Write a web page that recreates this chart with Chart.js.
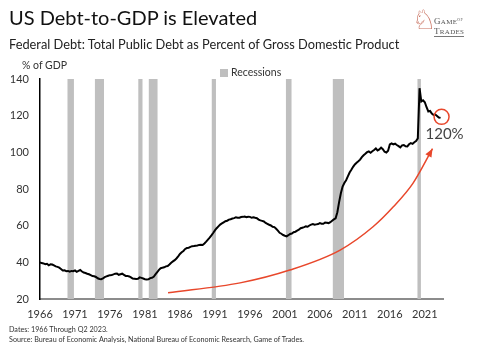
<html>

<head>
    <script type="text/javascript" src="https://cdn.jsdelivr.net/npm/chart.js@4.4.0/dist/chart.umd.min.js"></script>
    <style>
        body { margin: 0; background: #fff; }
        #wrap { position: relative; width: 478px; height: 350px; overflow: hidden; font-family: "Lato", sans-serif; color: #222; }
        #wrap canvas { position: absolute; left: 0; top: 0; }
        .txt { position: absolute; white-space: nowrap; }
        #title { left: 9px; top: 5px; font-size: 20px; color: #111; }
        #subtitle { left: 9px; top: 36px; font-size: 12.8px; color: #222; }
        #unit { left: 22px; top: 59px; font-size: 10.5px; color: #333; }
        #legend { left: 220px; top: 66px; font-size: 10.5px; color: #333; }
        #legend span { display: inline-block; width: 8px; height: 8px; background: #bfbfbf; margin-right: 3px; vertical-align: -1px; }
        #notes { left: 9px; top: 325px; font-size: 7.2px; line-height: 10px; color: #333; }
        #logo { left: 412px; top: 4px; }
        #knight { position: absolute; left: 0; top: 0; font-family: "DejaVu Sans"; font-size: 27px; color: #c8705f; }
        #logoText { position: absolute; left: 22px; top: 11px; font-family: "Liberation Serif", serif; font-size: 9px; line-height: 9px; color: #555; letter-spacing: 0.3px; }
        #logoText small { font-size: 4px; vertical-align: 3px; }
    </style>
</head>

<body>
    <div id="wrap">
        <canvas id="debtChart" width="478" height="350"></canvas>
        <div class="txt" id="title">US Debt-to-GDP is Elevated</div>
        <div class="txt" id="subtitle">Federal Debt: Total Public Debt as Percent of Gross Domestic Product</div>
        <div class="txt" id="unit">% of GDP</div>
        <div class="txt" id="legend"><span></span>Recessions</div>
        <div class="txt" id="notes">Dates: 1966 Through Q2 2023.<br>Source: Bureau of Economic Analysis, National Bureau of Economic Research, Game of Trades.</div>
        <div class="txt" id="logo">
            <div id="knight">&#9816;</div>
            <div id="logoText">G<span style="font-size:7px">AME</span><small>OF</small><br><span style="border-bottom:1px solid #777">T<span style="font-size:7px">RADES</span></span></div>
        </div>
    </div>
</body>

</html>

<script type="text/javascript">
    // quarterly, starting 1966 Q1
    const startYear = 1966;
    const debtToGdp = [
        40.0, 39.6, 39.4, 39.0, // 1966
        39.2, 38.4, 38.9, 38.8,
        38.3, 37.8, 37.5, 37.1,
        36.4, 35.6, 35.7, 35.2,
        35.3, 34.9, 35.3, 35.2, // 1970
        35.6, 34.8, 35.3, 35.8,
        35.0, 34.4, 34.2, 33.8,
        33.5, 33.0, 32.5, 32.4,
        32.0, 31.3, 30.9, 30.8,
        31.2, 31.9, 32.3, 32.7, // 1975
        33.0, 33.1, 33.4, 33.8,
        33.9, 33.2, 33.5, 33.8,
        33.2, 32.6, 32.6, 32.3,
        31.8, 31.1, 31.0, 30.9,
        31.0, 31.8, 31.5, 31.2, // 1980
        30.8, 30.6, 30.7, 31.4,
        31.6, 32.1, 33.4, 34.6,
        35.9, 36.8, 37.1, 37.3,
        37.8, 38.0, 38.8, 39.8,
        40.5, 41.2, 42.1, 43.3, // 1985
        44.6, 45.5, 46.2, 47.3,
        47.8, 48.0, 48.4, 48.8,
        48.9, 49.1, 49.2, 49.5,
        49.6, 49.5, 50.3, 51.3,
        52.4, 53.5, 54.7, 56.0, // 1990
        57.4, 58.6, 59.6, 60.6,
        61.2, 61.8, 62.4, 62.7,
        63.3, 63.5, 63.9, 64.1,
        64.6, 64.3, 64.3, 64.7,
        64.8, 65.0, 64.6, 64.9, // 1995
        64.8, 64.3, 64.6, 64.3,
        64.1, 63.3, 62.9, 62.6,
        62.3, 61.5, 61.0, 60.5,
        60.1, 59.4, 59.2, 58.3,
        57.3, 56.1, 55.6, 54.9, // 2000
        54.5, 54.2, 54.8, 55.5,
        55.7, 56.4, 56.7, 57.3,
        57.8, 58.6, 58.9, 59.2,
        59.6, 59.4, 60.1, 60.6,
        60.9, 60.5, 60.7, 60.9, // 2005
        61.4, 61.1, 61.0, 61.7,
        61.6, 61.4, 61.9, 62.7,
        63.4, 64.0, 67.3, 72.8,
        77.7, 81.3, 83.3, 84.8,
        86.9, 89.0, 90.5, 92.1, // 2010
        93.4, 94.3, 95.1, 96.0,
        97.4, 98.4, 99.2, 100.1,
        100.5, 99.8, 100.6, 101.3,
        102.1, 101.0, 101.6, 102.6,
        101.7, 100.3, 99.9, 100.9, // 2015
        104.3, 104.9, 104.3, 104.7,
        104.0, 103.4, 102.7, 103.8,
        104.0, 103.3, 103.2, 104.4,
        105.0, 104.6, 105.5, 106.2,
        107.6, 135.0, 127.7, 128.4, // 2020
        127.3, 124.6, 122.3, 122.6,
        121.1, 120.4, 120.6, 119.8,
        119.0, 118.8 // 2023 Q2
    ];

    const recessionStart = [1969.9, 1973.85, 1980.05, 1981.55, 1990.55, 2001.15, 2007.85, 2019.95];
    const recessionEnd = [1970.85, 1975.15, 1980.65, 1982.8, 1991.15, 2001.95, 2009.45, 2020.45];

    const yearTicks = [1966, 1971, 1976, 1981, 1986, 1991, 1996, 2001, 2006, 2011, 2016, 2021];

    // hand drawn trend arrow
    const arrowYears = [1984.3, 1994.6, 2001.7, 2008.9, 2013.6, 2016.5, 2019.3, 2022.1];
    const arrowValues = [23.4, 28.8, 35.8, 46.7, 59.4, 70.3, 83.1, 102.0];

    const fontFam = '"Lato", sans-serif';
    const red = '#e8472b';

    const debtPoints = debtToGdp.map((v, i) => ({ x: startYear + i / 4, y: v }));
    const arrowPoints = arrowYears.map((yr, i) => ({ x: yr, y: arrowValues[i] }));
    const recessionPoints = [];
    for (let i = 0; i < recessionStart.length; i++) {
        recessionPoints.push({ x: recessionStart[i], y: 20 }, { x: recessionStart[i], y: 140 },
            { x: recessionEnd[i], y: 140 }, { x: recessionEnd[i], y: 20 });
    }

    const marksPlugin = {
        id: 'marks',
        afterDatasetsDraw(chart) {
            const ctx = chart.ctx;
            const xs = chart.scales.x, ys = chart.scales.y;
            // arrow head
            const n = arrowPoints.length;
            const tx = xs.getPixelForValue(arrowPoints[n - 1].x), ty = ys.getPixelForValue(arrowPoints[n - 1].y);
            const bx = xs.getPixelForValue(arrowPoints[n - 2].x), by = ys.getPixelForValue(arrowPoints[n - 2].y);
            const ang = Math.atan2(ty - by, tx - bx);
            ctx.save();
            ctx.fillStyle = red;
            ctx.beginPath();
            ctx.moveTo(tx, ty);
            ctx.lineTo(tx - 9 * Math.cos(ang - 0.4), ty - 9 * Math.sin(ang - 0.4));
            ctx.lineTo(tx - 9 * Math.cos(ang + 0.4), ty - 9 * Math.sin(ang + 0.4));
            ctx.closePath();
            ctx.fill();
            // circle round the last reading
            const last = debtPoints[debtPoints.length - 1];
            const cx = xs.getPixelForValue(last.x) + 1, cy = ys.getPixelForValue(last.y) - 1;
            ctx.strokeStyle = red;
            ctx.lineWidth = 1.5;
            ctx.beginPath();
            ctx.arc(cx, cy, 7.5, 0, Math.PI * 2);
            ctx.stroke();
            ctx.fillStyle = '#444';
            ctx.font = '15px ' + fontFam;
            ctx.textAlign = 'center';
            ctx.textBaseline = 'middle';
            ctx.fillText('120%', cx + 3, cy + 17);
            ctx.restore();
        }
    };

    new Chart(document.getElementById('debtChart').getContext('2d'), {
        type: 'line',
        data: {
            datasets: [{
                label: 'Debt to GDP',
                data: debtPoints,
                borderColor: '#000',
                borderWidth: 2,
                pointRadius: 0,
                tension: 0
            }, {
                label: 'Trend',
                data: arrowPoints,
                borderColor: red,
                borderWidth: 1.5,
                pointRadius: 0,
                cubicInterpolationMode: 'monotone'
            }, {
                label: 'Recessions',
                data: recessionPoints,
                borderWidth: 0,
                borderColor: 'rgba(0,0,0,0)',
                backgroundColor: '#bfbfbf',
                pointRadius: 0,
                fill: 'start'
            }]
        },
        options: {
            responsive: false,
            animation: false,
            devicePixelRatio: 1,
            layout: { padding: { top: 79, left: 11, right: 35, bottom: 31 } },
            plugins: { legend: { display: false }, tooltip: { enabled: false } },
            scales: {
                x: {
                    type: 'linear',
                    min: 1966,
                    max: 2023.6,
                    z: 1,
                    grid: { display: false, drawTicks: false },
                    border: { color: '#8c8c8c', width: 2 },
                    afterBuildTicks: axis => { axis.ticks = yearTicks.map(v => ({ value: v })); },
                    afterFit: axis => { axis.height = 20; },
                    ticks: {
                        callback: v => String(v),
                        autoSkip: false,
                        maxRotation: 0,
                        padding: 9,
                        color: '#333',
                        font: { family: fontFam, size: 11 }
                    }
                },
                y: {
                    min: 20,
                    max: 140,
                    z: 1,
                    grid: { display: false, drawTicks: false },
                    border: { color: '#000', width: 1.5 },
                    afterFit: axis => { axis.width = 29; },
                    ticks: {
                        stepSize: 20,
                        padding: 11,
                        color: '#333',
                        font: { family: fontFam, size: 11 }
                    }
                }
            }
        },
        plugins: [marksPlugin]
    });
</script>
